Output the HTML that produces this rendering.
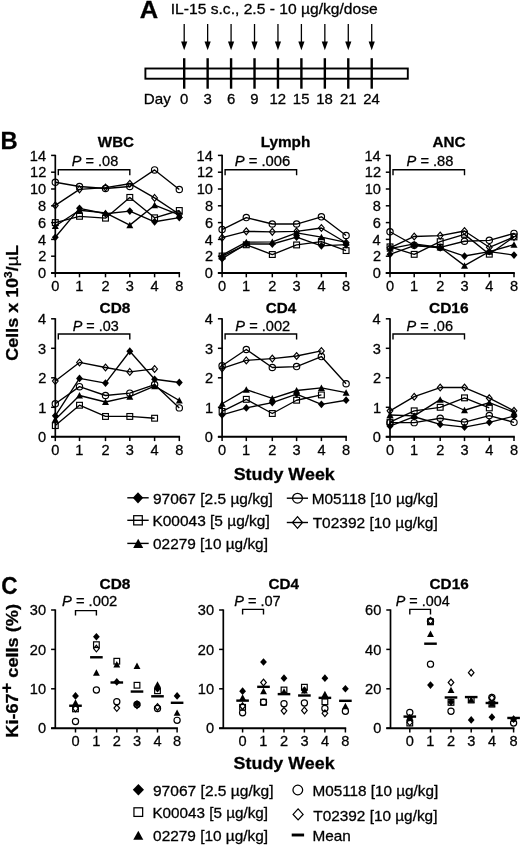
<!DOCTYPE html>
<html><head><meta charset="utf-8"><style>
html,body{margin:0;padding:0;background:#fff;}
body{width:520px;height:846px;overflow:hidden;}
svg{display:block;font-family:"Liberation Sans", sans-serif;filter:blur(0.3px);}
text{stroke:#000;stroke-width:0.28px;paint-order:stroke;}
</style></head><body>
<svg width="520" height="846" viewBox="0 0 520 846" fill="#000">
<rect width="520" height="846" fill="#fff"/>
<text x="139.7" y="18.4" font-size="24" transform="matrix(1.0634 0 0 1 -8.9 0)"><tspan font-weight="bold">A</tspan></text>
<text x="170.89" y="14" font-size="14.2" transform="matrix(1.1013 0 0 1 -17.45 0)"><tspan>IL-15 s.c., 2.5 - 10 µg/kg/dose</tspan></text>
<rect x="145.4" y="68.5" width="262.4" height="10.2" fill="none" stroke="#000" stroke-width="1.9"/>
<line x1="184.2" y1="24" x2="184.2" y2="42" stroke="#000" stroke-width="1.3"/>
<path d="M184.2 50.2L181.1 41.4L187.3 41.4Z" fill="#000"/>
<line x1="184.2" y1="58.2" x2="184.2" y2="88.7" stroke="#000" stroke-width="2.4"/>
<line x1="207.64" y1="24" x2="207.64" y2="42" stroke="#000" stroke-width="1.3"/>
<path d="M207.64 50.2L204.54 41.4L210.74 41.4Z" fill="#000"/>
<line x1="207.64" y1="58.2" x2="207.64" y2="88.7" stroke="#000" stroke-width="2.4"/>
<line x1="231.08" y1="24" x2="231.08" y2="42" stroke="#000" stroke-width="1.3"/>
<path d="M231.08 50.2L227.98 41.4L234.18 41.4Z" fill="#000"/>
<line x1="231.08" y1="58.2" x2="231.08" y2="88.7" stroke="#000" stroke-width="2.4"/>
<line x1="254.52" y1="24" x2="254.52" y2="42" stroke="#000" stroke-width="1.3"/>
<path d="M254.52 50.2L251.42 41.4L257.62 41.4Z" fill="#000"/>
<line x1="254.52" y1="58.2" x2="254.52" y2="88.7" stroke="#000" stroke-width="2.4"/>
<line x1="277.96" y1="24" x2="277.96" y2="42" stroke="#000" stroke-width="1.3"/>
<path d="M277.96 50.2L274.86 41.4L281.06 41.4Z" fill="#000"/>
<line x1="277.96" y1="58.2" x2="277.96" y2="88.7" stroke="#000" stroke-width="2.4"/>
<line x1="301.4" y1="24" x2="301.4" y2="42" stroke="#000" stroke-width="1.3"/>
<path d="M301.4 50.2L298.3 41.4L304.5 41.4Z" fill="#000"/>
<line x1="301.4" y1="58.2" x2="301.4" y2="88.7" stroke="#000" stroke-width="2.4"/>
<line x1="324.84" y1="24" x2="324.84" y2="42" stroke="#000" stroke-width="1.3"/>
<path d="M324.84 50.2L321.74 41.4L327.94 41.4Z" fill="#000"/>
<line x1="324.84" y1="58.2" x2="324.84" y2="88.7" stroke="#000" stroke-width="2.4"/>
<line x1="348.28" y1="24" x2="348.28" y2="42" stroke="#000" stroke-width="1.3"/>
<path d="M348.28 50.2L345.18 41.4L351.38 41.4Z" fill="#000"/>
<line x1="348.28" y1="58.2" x2="348.28" y2="88.7" stroke="#000" stroke-width="2.4"/>
<line x1="371.72" y1="24" x2="371.72" y2="42" stroke="#000" stroke-width="1.3"/>
<path d="M371.72 50.2L368.62 41.4L374.82 41.4Z" fill="#000"/>
<line x1="371.72" y1="58.2" x2="371.72" y2="88.7" stroke="#000" stroke-width="2.4"/>
<text x="143.83" y="104.2" font-size="14.2" transform="matrix(1.0693 0 0 1 -10.05 0)"><tspan>Day</tspan></text>
<text x="180.07" y="104.2" font-size="14.2" transform="matrix(1.0500 0 0 1 -9.03 0)"><tspan>0</tspan></text>
<text x="203.57" y="104.2" font-size="14.2" transform="matrix(1.0500 0 0 1 -10.2 0)"><tspan>3</tspan></text>
<text x="226.92" y="104.2" font-size="14.2" transform="matrix(1.0500 0 0 1 -11.38 0)"><tspan>6</tspan></text>
<text x="250.4" y="104.2" font-size="14.2" transform="matrix(1.0500 0 0 1 -12.55 0)"><tspan>9</tspan></text>
<text x="269.55" y="104.2" font-size="14.2" transform="matrix(1.0500 0 0 1 -13.53 0)"><tspan>12</tspan></text>
<text x="292.92" y="104.2" font-size="14.2" transform="matrix(1.0500 0 0 1 -14.7 0)"><tspan>15</tspan></text>
<text x="316.38" y="104.2" font-size="14.2" transform="matrix(1.0500 0 0 1 -15.87 0)"><tspan>18</tspan></text>
<text x="340.02" y="104.2" font-size="14.2" transform="matrix(1.0500 0 0 1 -17.04 0)"><tspan>21</tspan></text>
<text x="363.31" y="104.2" font-size="14.2" transform="matrix(1.0500 0 0 1 -18.2 0)"><tspan>24</tspan></text>
<text x="0.48" y="149.4" font-size="24" transform="matrix(0.9904 0 0 1 0.02 0)"><tspan font-weight="bold">B</tspan></text>
<text x="97.86" y="146.6" font-size="14.6" transform="matrix(1.0372 0 0 1 -3.64 0)"><tspan font-weight="bold">WBC</tspan></text>
<line x1="55.3" y1="154.8" x2="55.3" y2="273" stroke="#000" stroke-width="1.7"/>
<line x1="51.1" y1="273" x2="55.3" y2="273" stroke="#000" stroke-width="1.5"/>
<text x="38.04" y="278.2" font-size="14.6"><tspan>0</tspan></text>
<line x1="51.1" y1="256.2" x2="55.3" y2="256.2" stroke="#000" stroke-width="1.5"/>
<text x="38.23" y="261.4" font-size="14.6"><tspan>2</tspan></text>
<line x1="51.1" y1="239.4" x2="55.3" y2="239.4" stroke="#000" stroke-width="1.5"/>
<text x="37.9" y="244.6" font-size="14.6"><tspan>4</tspan></text>
<line x1="51.1" y1="222.6" x2="55.3" y2="222.6" stroke="#000" stroke-width="1.5"/>
<text x="38.12" y="227.8" font-size="14.6"><tspan>6</tspan></text>
<line x1="51.1" y1="205.8" x2="55.3" y2="205.8" stroke="#000" stroke-width="1.5"/>
<text x="38.12" y="211" font-size="14.6"><tspan>8</tspan></text>
<line x1="51.1" y1="189" x2="55.3" y2="189" stroke="#000" stroke-width="1.5"/>
<text x="29.94" y="194.2" font-size="14.6"><tspan>10</tspan></text>
<line x1="51.1" y1="172.2" x2="55.3" y2="172.2" stroke="#000" stroke-width="1.5"/>
<text x="30.12" y="177.4" font-size="14.6"><tspan>12</tspan></text>
<line x1="51.1" y1="155.4" x2="55.3" y2="155.4" stroke="#000" stroke-width="1.5"/>
<text x="29.8" y="160.6" font-size="14.6"><tspan>14</tspan></text>
<line x1="51.1" y1="273" x2="180.1" y2="273" stroke="#000" stroke-width="2"/>
<line x1="55.3" y1="273" x2="55.3" y2="277.3" stroke="#000" stroke-width="1.5"/>
<text x="51.23" y="291.2" font-size="14.6"><tspan>0</tspan></text>
<line x1="79.5" y1="273" x2="79.5" y2="277.3" stroke="#000" stroke-width="1.5"/>
<text x="75.25" y="291.2" font-size="14.6"><tspan>1</tspan></text>
<line x1="105.5" y1="273" x2="105.5" y2="277.3" stroke="#000" stroke-width="1.5"/>
<text x="101.45" y="291.2" font-size="14.6"><tspan>2</tspan></text>
<line x1="129.8" y1="273" x2="129.8" y2="277.3" stroke="#000" stroke-width="1.5"/>
<text x="125.79" y="291.2" font-size="14.6"><tspan>3</tspan></text>
<line x1="154.6" y1="273" x2="154.6" y2="277.3" stroke="#000" stroke-width="1.5"/>
<text x="150.59" y="291.2" font-size="14.6"><tspan>4</tspan></text>
<line x1="179.3" y1="273" x2="179.3" y2="277.3" stroke="#000" stroke-width="1.5"/>
<text x="175.25" y="291.2" font-size="14.6"><tspan>8</tspan></text>
<path d="M58.3 175.2V169.7H129.8V175.2" fill="none" stroke="#000" stroke-width="1.4"/>
<text x="71.88" y="165.9" font-size="14" transform="matrix(1.0364 0 0 1 -2.63 0)"><tspan font-style="italic">P</tspan><tspan> = .08</tspan></text>
<polyline points="55.3,237.3 79.5,208.32 105.5,213.78 129.8,211.09 154.6,221.76 179.3,217.56" fill="none" stroke="#000" stroke-width="1.35" stroke-linejoin="round"/>
<polyline points="55.3,222.6 79.5,216.3 105.5,218.15 129.8,197.4 154.6,217.81 179.3,210.5" fill="none" stroke="#000" stroke-width="1.35" stroke-linejoin="round"/>
<polyline points="55.3,225.96 79.5,210.25 105.5,212.94 129.8,225.12 154.6,205.21 179.3,214.79" fill="none" stroke="#000" stroke-width="1.35" stroke-linejoin="round"/>
<polyline points="55.3,182.28 79.5,186.48 105.5,188.5 129.8,186.48 154.6,169.93 179.3,189.5" fill="none" stroke="#000" stroke-width="1.35" stroke-linejoin="round"/>
<polyline points="55.3,205.38 79.5,189.34 105.5,187.57 129.8,183.71 154.6,197.9 179.3,214.2" fill="none" stroke="#000" stroke-width="1.35" stroke-linejoin="round"/>
<path d="M55.3 233.4L58.75 237.3L55.3 241.2L51.85 237.3Z" fill="#000"/>
<path d="M79.5 204.42L82.95 208.32L79.5 212.22L76.05 208.32Z" fill="#000"/>
<path d="M105.5 209.88L108.95 213.78L105.5 217.68L102.05 213.78Z" fill="#000"/>
<path d="M129.8 207.19L133.25 211.09L129.8 214.99L126.35 211.09Z" fill="#000"/>
<path d="M154.6 217.86L158.05 221.76L154.6 225.66L151.15 221.76Z" fill="#000"/>
<path d="M179.3 213.66L182.75 217.56L179.3 221.46L175.85 217.56Z" fill="#000"/>
<rect x="52.4" y="219.7" width="5.8" height="5.8" fill="none" stroke="#000" stroke-width="1.15"/>
<rect x="76.6" y="213.4" width="5.8" height="5.8" fill="none" stroke="#000" stroke-width="1.15"/>
<rect x="102.6" y="215.25" width="5.8" height="5.8" fill="none" stroke="#000" stroke-width="1.15"/>
<rect x="126.9" y="194.5" width="5.8" height="5.8" fill="none" stroke="#000" stroke-width="1.15"/>
<rect x="151.7" y="214.91" width="5.8" height="5.8" fill="none" stroke="#000" stroke-width="1.15"/>
<rect x="176.4" y="207.6" width="5.8" height="5.8" fill="none" stroke="#000" stroke-width="1.15"/>
<path d="M55.3 222.56L58.8 229.06L51.8 229.06Z" fill="#000"/>
<path d="M79.5 206.85L83 213.35L76 213.35Z" fill="#000"/>
<path d="M105.5 209.54L109 216.04L102 216.04Z" fill="#000"/>
<path d="M129.8 221.72L133.3 228.22L126.3 228.22Z" fill="#000"/>
<path d="M154.6 201.81L158.1 208.31L151.1 208.31Z" fill="#000"/>
<path d="M179.3 211.39L182.8 217.89L175.8 217.89Z" fill="#000"/>
<circle cx="55.3" cy="182.28" r="3.15" fill="none" stroke="#000" stroke-width="1.15"/>
<circle cx="79.5" cy="186.48" r="3.15" fill="none" stroke="#000" stroke-width="1.15"/>
<circle cx="105.5" cy="188.5" r="3.15" fill="none" stroke="#000" stroke-width="1.15"/>
<circle cx="129.8" cy="186.48" r="3.15" fill="none" stroke="#000" stroke-width="1.15"/>
<circle cx="154.6" cy="169.93" r="3.15" fill="none" stroke="#000" stroke-width="1.15"/>
<circle cx="179.3" cy="189.5" r="3.15" fill="none" stroke="#000" stroke-width="1.15"/>
<path d="M55.3 201.98L58.15 205.38L55.3 208.78L52.45 205.38Z" fill="none" stroke="#000" stroke-width="1.15"/>
<path d="M79.5 185.94L82.35 189.34L79.5 192.74L76.65 189.34Z" fill="none" stroke="#000" stroke-width="1.15"/>
<path d="M105.5 184.17L108.35 187.57L105.5 190.97L102.65 187.57Z" fill="none" stroke="#000" stroke-width="1.15"/>
<path d="M129.8 180.31L132.65 183.71L129.8 187.11L126.95 183.71Z" fill="none" stroke="#000" stroke-width="1.15"/>
<path d="M154.6 194.5L157.45 197.9L154.6 201.3L151.75 197.9Z" fill="none" stroke="#000" stroke-width="1.15"/>
<path d="M179.3 210.8L182.15 214.2L179.3 217.6L176.45 214.2Z" fill="none" stroke="#000" stroke-width="1.15"/>
<text x="260.71" y="146.6" font-size="14.6" transform="matrix(1.0497 0 0 1 -13 0)"><tspan font-weight="bold">Lymph</tspan></text>
<line x1="222.1" y1="154.8" x2="222.1" y2="273" stroke="#000" stroke-width="1.7"/>
<line x1="217.9" y1="273" x2="222.1" y2="273" stroke="#000" stroke-width="1.5"/>
<text x="204.84" y="278.2" font-size="14.6"><tspan>0</tspan></text>
<line x1="217.9" y1="256.2" x2="222.1" y2="256.2" stroke="#000" stroke-width="1.5"/>
<text x="205.03" y="261.4" font-size="14.6"><tspan>2</tspan></text>
<line x1="217.9" y1="239.4" x2="222.1" y2="239.4" stroke="#000" stroke-width="1.5"/>
<text x="204.7" y="244.6" font-size="14.6"><tspan>4</tspan></text>
<line x1="217.9" y1="222.6" x2="222.1" y2="222.6" stroke="#000" stroke-width="1.5"/>
<text x="204.92" y="227.8" font-size="14.6"><tspan>6</tspan></text>
<line x1="217.9" y1="205.8" x2="222.1" y2="205.8" stroke="#000" stroke-width="1.5"/>
<text x="204.92" y="211" font-size="14.6"><tspan>8</tspan></text>
<line x1="217.9" y1="189" x2="222.1" y2="189" stroke="#000" stroke-width="1.5"/>
<text x="196.74" y="194.2" font-size="14.6"><tspan>10</tspan></text>
<line x1="217.9" y1="172.2" x2="222.1" y2="172.2" stroke="#000" stroke-width="1.5"/>
<text x="196.92" y="177.4" font-size="14.6"><tspan>12</tspan></text>
<line x1="217.9" y1="155.4" x2="222.1" y2="155.4" stroke="#000" stroke-width="1.5"/>
<text x="196.6" y="160.6" font-size="14.6"><tspan>14</tspan></text>
<line x1="217.9" y1="273" x2="346.9" y2="273" stroke="#000" stroke-width="2"/>
<line x1="222.1" y1="273" x2="222.1" y2="277.3" stroke="#000" stroke-width="1.5"/>
<text x="218.03" y="291.2" font-size="14.6"><tspan>0</tspan></text>
<line x1="246.3" y1="273" x2="246.3" y2="277.3" stroke="#000" stroke-width="1.5"/>
<text x="242.05" y="291.2" font-size="14.6"><tspan>1</tspan></text>
<line x1="272.3" y1="273" x2="272.3" y2="277.3" stroke="#000" stroke-width="1.5"/>
<text x="268.25" y="291.2" font-size="14.6"><tspan>2</tspan></text>
<line x1="296.6" y1="273" x2="296.6" y2="277.3" stroke="#000" stroke-width="1.5"/>
<text x="292.59" y="291.2" font-size="14.6"><tspan>3</tspan></text>
<line x1="321.4" y1="273" x2="321.4" y2="277.3" stroke="#000" stroke-width="1.5"/>
<text x="317.38" y="291.2" font-size="14.6"><tspan>4</tspan></text>
<line x1="346.1" y1="273" x2="346.1" y2="277.3" stroke="#000" stroke-width="1.5"/>
<text x="342.05" y="291.2" font-size="14.6"><tspan>8</tspan></text>
<path d="M225.1 175.2V169.7H296.6V175.2" fill="none" stroke="#000" stroke-width="1.4"/>
<text x="234.68" y="165.9" font-size="14" transform="matrix(1.0580 0 0 1 -13.63 0)"><tspan font-style="italic">P</tspan><tspan> = .006</tspan></text>
<polyline points="222.1,258.64 246.3,243.94 272.3,244.02 296.6,237.13 321.4,245.87 346.1,244.69" fill="none" stroke="#000" stroke-width="1.35" stroke-linejoin="round"/>
<polyline points="222.1,256.03 246.3,244.78 272.3,254.52 296.6,244.94 321.4,241.58 346.1,250.57" fill="none" stroke="#000" stroke-width="1.35" stroke-linejoin="round"/>
<polyline points="222.1,255.11 246.3,242.17 272.3,241.92 296.6,232.85 321.4,237.13 346.1,242.34" fill="none" stroke="#000" stroke-width="1.35" stroke-linejoin="round"/>
<polyline points="222.1,229.57 246.3,217.56 272.3,224.03 296.6,224.03 321.4,216.8 346.1,235.45" fill="none" stroke="#000" stroke-width="1.35" stroke-linejoin="round"/>
<polyline points="222.1,237.72 246.3,231.34 272.3,231.84 296.6,231.42 321.4,227.98 346.1,242.76" fill="none" stroke="#000" stroke-width="1.35" stroke-linejoin="round"/>
<path d="M222.1 254.74L225.55 258.64L222.1 262.54L218.65 258.64Z" fill="#000"/>
<path d="M246.3 240.04L249.75 243.94L246.3 247.84L242.85 243.94Z" fill="#000"/>
<path d="M272.3 240.12L275.75 244.02L272.3 247.92L268.85 244.02Z" fill="#000"/>
<path d="M296.6 233.23L300.05 237.13L296.6 241.03L293.15 237.13Z" fill="#000"/>
<path d="M321.4 241.97L324.85 245.87L321.4 249.77L317.95 245.87Z" fill="#000"/>
<path d="M346.1 240.79L349.55 244.69L346.1 248.59L342.65 244.69Z" fill="#000"/>
<rect x="219.2" y="253.13" width="5.8" height="5.8" fill="none" stroke="#000" stroke-width="1.15"/>
<rect x="243.4" y="241.88" width="5.8" height="5.8" fill="none" stroke="#000" stroke-width="1.15"/>
<rect x="269.4" y="251.62" width="5.8" height="5.8" fill="none" stroke="#000" stroke-width="1.15"/>
<rect x="293.7" y="242.04" width="5.8" height="5.8" fill="none" stroke="#000" stroke-width="1.15"/>
<rect x="318.5" y="238.68" width="5.8" height="5.8" fill="none" stroke="#000" stroke-width="1.15"/>
<rect x="343.2" y="247.67" width="5.8" height="5.8" fill="none" stroke="#000" stroke-width="1.15"/>
<path d="M222.1 251.71L225.6 258.21L218.6 258.21Z" fill="#000"/>
<path d="M246.3 238.77L249.8 245.27L242.8 245.27Z" fill="#000"/>
<path d="M272.3 238.52L275.8 245.02L268.8 245.02Z" fill="#000"/>
<path d="M296.6 229.45L300.1 235.95L293.1 235.95Z" fill="#000"/>
<path d="M321.4 233.73L324.9 240.23L317.9 240.23Z" fill="#000"/>
<path d="M346.1 238.94L349.6 245.44L342.6 245.44Z" fill="#000"/>
<circle cx="222.1" cy="229.57" r="3.15" fill="none" stroke="#000" stroke-width="1.15"/>
<circle cx="246.3" cy="217.56" r="3.15" fill="none" stroke="#000" stroke-width="1.15"/>
<circle cx="272.3" cy="224.03" r="3.15" fill="none" stroke="#000" stroke-width="1.15"/>
<circle cx="296.6" cy="224.03" r="3.15" fill="none" stroke="#000" stroke-width="1.15"/>
<circle cx="321.4" cy="216.8" r="3.15" fill="none" stroke="#000" stroke-width="1.15"/>
<circle cx="346.1" cy="235.45" r="3.15" fill="none" stroke="#000" stroke-width="1.15"/>
<path d="M222.1 234.32L224.95 237.72L222.1 241.12L219.25 237.72Z" fill="none" stroke="#000" stroke-width="1.15"/>
<path d="M246.3 227.94L249.15 231.34L246.3 234.74L243.45 231.34Z" fill="none" stroke="#000" stroke-width="1.15"/>
<path d="M272.3 228.44L275.15 231.84L272.3 235.24L269.45 231.84Z" fill="none" stroke="#000" stroke-width="1.15"/>
<path d="M296.6 228.02L299.45 231.42L296.6 234.82L293.75 231.42Z" fill="none" stroke="#000" stroke-width="1.15"/>
<path d="M321.4 224.58L324.25 227.98L321.4 231.38L318.55 227.98Z" fill="none" stroke="#000" stroke-width="1.15"/>
<path d="M346.1 239.36L348.95 242.76L346.1 246.16L343.25 242.76Z" fill="none" stroke="#000" stroke-width="1.15"/>
<text x="432.53" y="146.6" font-size="14.6" transform="matrix(1.0460 0 0 1 -19.92 0)"><tspan font-weight="bold">ANC</tspan></text>
<line x1="390" y1="154.8" x2="390" y2="273" stroke="#000" stroke-width="1.7"/>
<line x1="385.8" y1="273" x2="390" y2="273" stroke="#000" stroke-width="1.5"/>
<text x="372.74" y="278.2" font-size="14.6"><tspan>0</tspan></text>
<line x1="385.8" y1="256.2" x2="390" y2="256.2" stroke="#000" stroke-width="1.5"/>
<text x="372.93" y="261.4" font-size="14.6"><tspan>2</tspan></text>
<line x1="385.8" y1="239.4" x2="390" y2="239.4" stroke="#000" stroke-width="1.5"/>
<text x="372.6" y="244.6" font-size="14.6"><tspan>4</tspan></text>
<line x1="385.8" y1="222.6" x2="390" y2="222.6" stroke="#000" stroke-width="1.5"/>
<text x="372.82" y="227.8" font-size="14.6"><tspan>6</tspan></text>
<line x1="385.8" y1="205.8" x2="390" y2="205.8" stroke="#000" stroke-width="1.5"/>
<text x="372.82" y="211" font-size="14.6"><tspan>8</tspan></text>
<line x1="385.8" y1="189" x2="390" y2="189" stroke="#000" stroke-width="1.5"/>
<text x="364.64" y="194.2" font-size="14.6"><tspan>10</tspan></text>
<line x1="385.8" y1="172.2" x2="390" y2="172.2" stroke="#000" stroke-width="1.5"/>
<text x="364.82" y="177.4" font-size="14.6"><tspan>12</tspan></text>
<line x1="385.8" y1="155.4" x2="390" y2="155.4" stroke="#000" stroke-width="1.5"/>
<text x="364.5" y="160.6" font-size="14.6"><tspan>14</tspan></text>
<line x1="385.8" y1="273" x2="514.8" y2="273" stroke="#000" stroke-width="2"/>
<line x1="390" y1="273" x2="390" y2="277.3" stroke="#000" stroke-width="1.5"/>
<text x="385.93" y="291.2" font-size="14.6"><tspan>0</tspan></text>
<line x1="414.2" y1="273" x2="414.2" y2="277.3" stroke="#000" stroke-width="1.5"/>
<text x="409.95" y="291.2" font-size="14.6"><tspan>1</tspan></text>
<line x1="440.2" y1="273" x2="440.2" y2="277.3" stroke="#000" stroke-width="1.5"/>
<text x="436.15" y="291.2" font-size="14.6"><tspan>2</tspan></text>
<line x1="464.5" y1="273" x2="464.5" y2="277.3" stroke="#000" stroke-width="1.5"/>
<text x="460.49" y="291.2" font-size="14.6"><tspan>3</tspan></text>
<line x1="489.3" y1="273" x2="489.3" y2="277.3" stroke="#000" stroke-width="1.5"/>
<text x="485.28" y="291.2" font-size="14.6"><tspan>4</tspan></text>
<line x1="514" y1="273" x2="514" y2="277.3" stroke="#000" stroke-width="1.5"/>
<text x="509.95" y="291.2" font-size="14.6"><tspan>8</tspan></text>
<path d="M393 175.2V169.7H464.5V175.2" fill="none" stroke="#000" stroke-width="1.4"/>
<text x="406.58" y="165.9" font-size="14" transform="matrix(1.0456 0 0 1 -18.55 0)"><tspan font-style="italic">P</tspan><tspan> = .88</tspan></text>
<polyline points="390,254.35 414.2,245.7 440.2,247.8 464.5,256.03 489.3,251.58 514,255.11" fill="none" stroke="#000" stroke-width="1.35" stroke-linejoin="round"/>
<polyline points="390,246.88 414.2,254.35 440.2,241.67 464.5,234.36 489.3,254.18 514,236.88" fill="none" stroke="#000" stroke-width="1.35" stroke-linejoin="round"/>
<polyline points="390,248.64 414.2,243.85 440.2,247.3 464.5,265.61 489.3,251.58 514,244.69" fill="none" stroke="#000" stroke-width="1.35" stroke-linejoin="round"/>
<polyline points="390,231.76 414.2,245.28 440.2,247.3 464.5,241.25 489.3,240.32 514,233.44" fill="none" stroke="#000" stroke-width="1.35" stroke-linejoin="round"/>
<polyline points="390,247.8 414.2,236.46 440.2,235.62 464.5,231 489.3,247.3 514,236.88" fill="none" stroke="#000" stroke-width="1.35" stroke-linejoin="round"/>
<path d="M390 250.45L393.45 254.35L390 258.25L386.55 254.35Z" fill="#000"/>
<path d="M414.2 241.8L417.65 245.7L414.2 249.6L410.75 245.7Z" fill="#000"/>
<path d="M440.2 243.9L443.65 247.8L440.2 251.7L436.75 247.8Z" fill="#000"/>
<path d="M464.5 252.13L467.95 256.03L464.5 259.93L461.05 256.03Z" fill="#000"/>
<path d="M489.3 247.68L492.75 251.58L489.3 255.48L485.85 251.58Z" fill="#000"/>
<path d="M514 251.21L517.45 255.11L514 259.01L510.55 255.11Z" fill="#000"/>
<rect x="387.1" y="243.98" width="5.8" height="5.8" fill="none" stroke="#000" stroke-width="1.15"/>
<rect x="411.3" y="251.45" width="5.8" height="5.8" fill="none" stroke="#000" stroke-width="1.15"/>
<rect x="437.3" y="238.77" width="5.8" height="5.8" fill="none" stroke="#000" stroke-width="1.15"/>
<rect x="461.6" y="231.46" width="5.8" height="5.8" fill="none" stroke="#000" stroke-width="1.15"/>
<rect x="486.4" y="251.28" width="5.8" height="5.8" fill="none" stroke="#000" stroke-width="1.15"/>
<rect x="511.1" y="233.98" width="5.8" height="5.8" fill="none" stroke="#000" stroke-width="1.15"/>
<path d="M390 245.24L393.5 251.74L386.5 251.74Z" fill="#000"/>
<path d="M414.2 240.45L417.7 246.95L410.7 246.95Z" fill="#000"/>
<path d="M440.2 243.9L443.7 250.4L436.7 250.4Z" fill="#000"/>
<path d="M464.5 262.21L468 268.71L461 268.71Z" fill="#000"/>
<path d="M489.3 248.18L492.8 254.68L485.8 254.68Z" fill="#000"/>
<path d="M514 241.29L517.5 247.79L510.5 247.79Z" fill="#000"/>
<circle cx="390" cy="231.76" r="3.15" fill="none" stroke="#000" stroke-width="1.15"/>
<circle cx="414.2" cy="245.28" r="3.15" fill="none" stroke="#000" stroke-width="1.15"/>
<circle cx="440.2" cy="247.3" r="3.15" fill="none" stroke="#000" stroke-width="1.15"/>
<circle cx="464.5" cy="241.25" r="3.15" fill="none" stroke="#000" stroke-width="1.15"/>
<circle cx="489.3" cy="240.32" r="3.15" fill="none" stroke="#000" stroke-width="1.15"/>
<circle cx="514" cy="233.44" r="3.15" fill="none" stroke="#000" stroke-width="1.15"/>
<path d="M390 244.4L392.85 247.8L390 251.2L387.15 247.8Z" fill="none" stroke="#000" stroke-width="1.15"/>
<path d="M414.2 233.06L417.05 236.46L414.2 239.86L411.35 236.46Z" fill="none" stroke="#000" stroke-width="1.15"/>
<path d="M440.2 232.22L443.05 235.62L440.2 239.02L437.35 235.62Z" fill="none" stroke="#000" stroke-width="1.15"/>
<path d="M464.5 227.6L467.35 231L464.5 234.4L461.65 231Z" fill="none" stroke="#000" stroke-width="1.15"/>
<path d="M489.3 243.9L492.15 247.3L489.3 250.7L486.45 247.3Z" fill="none" stroke="#000" stroke-width="1.15"/>
<path d="M514 233.48L516.85 236.88L514 240.28L511.15 236.88Z" fill="none" stroke="#000" stroke-width="1.15"/>
<text x="99.62" y="313" font-size="14.6" transform="matrix(1.0576 0 0 1 -5.77 0)"><tspan font-weight="bold">CD8</tspan></text>
<line x1="55.3" y1="318.2" x2="55.3" y2="436.8" stroke="#000" stroke-width="1.7"/>
<line x1="51.1" y1="436.8" x2="55.3" y2="436.8" stroke="#000" stroke-width="1.5"/>
<text x="38.04" y="442" font-size="14.6"><tspan>0</tspan></text>
<line x1="51.1" y1="407.3" x2="55.3" y2="407.3" stroke="#000" stroke-width="1.5"/>
<text x="38.19" y="412.5" font-size="14.6"><tspan>1</tspan></text>
<line x1="51.1" y1="377.8" x2="55.3" y2="377.8" stroke="#000" stroke-width="1.5"/>
<text x="38.23" y="383" font-size="14.6"><tspan>2</tspan></text>
<line x1="51.1" y1="348.3" x2="55.3" y2="348.3" stroke="#000" stroke-width="1.5"/>
<text x="38.12" y="353.5" font-size="14.6"><tspan>3</tspan></text>
<line x1="51.1" y1="318.8" x2="55.3" y2="318.8" stroke="#000" stroke-width="1.5"/>
<text x="37.9" y="324" font-size="14.6"><tspan>4</tspan></text>
<line x1="51.1" y1="436.8" x2="180.1" y2="436.8" stroke="#000" stroke-width="2"/>
<line x1="55.3" y1="436.8" x2="55.3" y2="441.1" stroke="#000" stroke-width="1.5"/>
<text x="51.23" y="455" font-size="14.6"><tspan>0</tspan></text>
<line x1="79.5" y1="436.8" x2="79.5" y2="441.1" stroke="#000" stroke-width="1.5"/>
<text x="75.25" y="455" font-size="14.6"><tspan>1</tspan></text>
<line x1="105.5" y1="436.8" x2="105.5" y2="441.1" stroke="#000" stroke-width="1.5"/>
<text x="101.45" y="455" font-size="14.6"><tspan>2</tspan></text>
<line x1="129.8" y1="436.8" x2="129.8" y2="441.1" stroke="#000" stroke-width="1.5"/>
<text x="125.79" y="455" font-size="14.6"><tspan>3</tspan></text>
<line x1="154.6" y1="436.8" x2="154.6" y2="441.1" stroke="#000" stroke-width="1.5"/>
<text x="150.59" y="455" font-size="14.6"><tspan>4</tspan></text>
<line x1="179.3" y1="436.8" x2="179.3" y2="441.1" stroke="#000" stroke-width="1.5"/>
<text x="175.25" y="455" font-size="14.6"><tspan>8</tspan></text>
<path d="M58.3 339.5V334H129.8V339.5" fill="none" stroke="#000" stroke-width="1.4"/>
<text x="72.68" y="330.9" font-size="14" transform="matrix(1.0273 0 0 1 -1.99 0)"><tspan font-style="italic">P</tspan><tspan> = .03</tspan></text>
<polyline points="55.3,415.86 79.5,378.39 105.5,383.11 129.8,351.25 154.6,379.28 179.3,382.52" fill="none" stroke="#000" stroke-width="1.35" stroke-linejoin="round"/>
<polyline points="55.3,425.59 79.5,405.24 105.5,416.44 129.8,416.44 154.6,418.22" fill="none" stroke="#000" stroke-width="1.35" stroke-linejoin="round"/>
<polyline points="55.3,419.4 79.5,395.5 105.5,401.99 129.8,396.68 154.6,386.06 179.3,400.51" fill="none" stroke="#000" stroke-width="1.35" stroke-linejoin="round"/>
<polyline points="55.3,403.76 79.5,386.65 105.5,395.5 129.8,393.14 154.6,384.59 179.3,407.89" fill="none" stroke="#000" stroke-width="1.35" stroke-linejoin="round"/>
<polyline points="55.3,381.05 79.5,362.46 105.5,367.48 129.8,371.9 154.6,368.95" fill="none" stroke="#000" stroke-width="1.35" stroke-linejoin="round"/>
<path d="M55.3 411.96L58.75 415.86L55.3 419.75L51.85 415.86Z" fill="#000"/>
<path d="M79.5 374.49L82.95 378.39L79.5 382.29L76.05 378.39Z" fill="#000"/>
<path d="M105.5 379.21L108.95 383.11L105.5 387.01L102.05 383.11Z" fill="#000"/>
<path d="M129.8 347.35L133.25 351.25L129.8 355.15L126.35 351.25Z" fill="#000"/>
<path d="M154.6 375.38L158.05 379.28L154.6 383.18L151.15 379.28Z" fill="#000"/>
<path d="M179.3 378.62L182.75 382.52L179.3 386.42L175.85 382.52Z" fill="#000"/>
<rect x="52.4" y="422.69" width="5.8" height="5.8" fill="none" stroke="#000" stroke-width="1.15"/>
<rect x="76.6" y="402.34" width="5.8" height="5.8" fill="none" stroke="#000" stroke-width="1.15"/>
<rect x="102.6" y="413.55" width="5.8" height="5.8" fill="none" stroke="#000" stroke-width="1.15"/>
<rect x="126.9" y="413.55" width="5.8" height="5.8" fill="none" stroke="#000" stroke-width="1.15"/>
<rect x="151.7" y="415.32" width="5.8" height="5.8" fill="none" stroke="#000" stroke-width="1.15"/>
<path d="M55.3 416L58.8 422.5L51.8 422.5Z" fill="#000"/>
<path d="M79.5 392.1L83 398.6L76 398.6Z" fill="#000"/>
<path d="M105.5 398.59L109 405.09L102 405.09Z" fill="#000"/>
<path d="M129.8 393.28L133.3 399.78L126.3 399.78Z" fill="#000"/>
<path d="M154.6 382.66L158.1 389.16L151.1 389.16Z" fill="#000"/>
<path d="M179.3 397.12L182.8 403.62L175.8 403.62Z" fill="#000"/>
<circle cx="55.3" cy="403.76" r="3.15" fill="none" stroke="#000" stroke-width="1.15"/>
<circle cx="79.5" cy="386.65" r="3.15" fill="none" stroke="#000" stroke-width="1.15"/>
<circle cx="105.5" cy="395.5" r="3.15" fill="none" stroke="#000" stroke-width="1.15"/>
<circle cx="129.8" cy="393.14" r="3.15" fill="none" stroke="#000" stroke-width="1.15"/>
<circle cx="154.6" cy="384.59" r="3.15" fill="none" stroke="#000" stroke-width="1.15"/>
<circle cx="179.3" cy="407.89" r="3.15" fill="none" stroke="#000" stroke-width="1.15"/>
<path d="M55.3 377.65L58.15 381.05L55.3 384.44L52.45 381.05Z" fill="none" stroke="#000" stroke-width="1.15"/>
<path d="M79.5 359.06L82.35 362.46L79.5 365.86L76.65 362.46Z" fill="none" stroke="#000" stroke-width="1.15"/>
<path d="M105.5 364.08L108.35 367.48L105.5 370.88L102.65 367.48Z" fill="none" stroke="#000" stroke-width="1.15"/>
<path d="M129.8 368.5L132.65 371.9L129.8 375.3L126.95 371.9Z" fill="none" stroke="#000" stroke-width="1.15"/>
<path d="M154.6 365.55L157.45 368.95L154.6 372.35L151.75 368.95Z" fill="none" stroke="#000" stroke-width="1.15"/>
<text x="265.82" y="313" font-size="14.6" transform="matrix(1.0405 0 0 1 -10.8 0)"><tspan font-weight="bold">CD4</tspan></text>
<line x1="222.1" y1="318.2" x2="222.1" y2="436.8" stroke="#000" stroke-width="1.7"/>
<line x1="217.9" y1="436.8" x2="222.1" y2="436.8" stroke="#000" stroke-width="1.5"/>
<text x="204.84" y="442" font-size="14.6"><tspan>0</tspan></text>
<line x1="217.9" y1="407.3" x2="222.1" y2="407.3" stroke="#000" stroke-width="1.5"/>
<text x="204.99" y="412.5" font-size="14.6"><tspan>1</tspan></text>
<line x1="217.9" y1="377.8" x2="222.1" y2="377.8" stroke="#000" stroke-width="1.5"/>
<text x="205.03" y="383" font-size="14.6"><tspan>2</tspan></text>
<line x1="217.9" y1="348.3" x2="222.1" y2="348.3" stroke="#000" stroke-width="1.5"/>
<text x="204.92" y="353.5" font-size="14.6"><tspan>3</tspan></text>
<line x1="217.9" y1="318.8" x2="222.1" y2="318.8" stroke="#000" stroke-width="1.5"/>
<text x="204.7" y="324" font-size="14.6"><tspan>4</tspan></text>
<line x1="217.9" y1="436.8" x2="346.9" y2="436.8" stroke="#000" stroke-width="2"/>
<line x1="222.1" y1="436.8" x2="222.1" y2="441.1" stroke="#000" stroke-width="1.5"/>
<text x="218.03" y="455" font-size="14.6"><tspan>0</tspan></text>
<line x1="246.3" y1="436.8" x2="246.3" y2="441.1" stroke="#000" stroke-width="1.5"/>
<text x="242.05" y="455" font-size="14.6"><tspan>1</tspan></text>
<line x1="272.3" y1="436.8" x2="272.3" y2="441.1" stroke="#000" stroke-width="1.5"/>
<text x="268.25" y="455" font-size="14.6"><tspan>2</tspan></text>
<line x1="296.6" y1="436.8" x2="296.6" y2="441.1" stroke="#000" stroke-width="1.5"/>
<text x="292.59" y="455" font-size="14.6"><tspan>3</tspan></text>
<line x1="321.4" y1="436.8" x2="321.4" y2="441.1" stroke="#000" stroke-width="1.5"/>
<text x="317.38" y="455" font-size="14.6"><tspan>4</tspan></text>
<line x1="346.1" y1="436.8" x2="346.1" y2="441.1" stroke="#000" stroke-width="1.5"/>
<text x="342.05" y="455" font-size="14.6"><tspan>8</tspan></text>
<path d="M225.1 339.5V334H296.6V339.5" fill="none" stroke="#000" stroke-width="1.4"/>
<text x="235.38" y="330.9" font-size="14" transform="matrix(1.0426 0 0 1 -10.05 0)"><tspan font-style="italic">P</tspan><tspan> = .002</tspan></text>
<polyline points="222.1,414.97 246.3,407.89 272.3,402.58 296.6,394.03 321.4,404.35 346.1,400.22" fill="none" stroke="#000" stroke-width="1.35" stroke-linejoin="round"/>
<polyline points="222.1,411.43 246.3,399.34 272.3,413.5 296.6,400.22 321.4,394.91" fill="none" stroke="#000" stroke-width="1.35" stroke-linejoin="round"/>
<polyline points="222.1,403.76 246.3,389.6 272.3,398.45 296.6,390.49 321.4,387.83 346.1,392.55" fill="none" stroke="#000" stroke-width="1.35" stroke-linejoin="round"/>
<polyline points="222.1,365.71 246.3,349.48 272.3,367.48 296.6,366.59 321.4,356.56 346.1,383.7" fill="none" stroke="#000" stroke-width="1.35" stroke-linejoin="round"/>
<polyline points="222.1,368.36 246.3,360.39 272.3,358.62 296.6,355.97 321.4,350.96" fill="none" stroke="#000" stroke-width="1.35" stroke-linejoin="round"/>
<path d="M222.1 411.07L225.55 414.97L222.1 418.87L218.65 414.97Z" fill="#000"/>
<path d="M246.3 403.99L249.75 407.89L246.3 411.79L242.85 407.89Z" fill="#000"/>
<path d="M272.3 398.68L275.75 402.58L272.3 406.48L268.85 402.58Z" fill="#000"/>
<path d="M296.6 390.13L300.05 394.03L296.6 397.93L293.15 394.03Z" fill="#000"/>
<path d="M321.4 400.45L324.85 404.35L321.4 408.25L317.95 404.35Z" fill="#000"/>
<path d="M346.1 396.32L349.55 400.22L346.1 404.12L342.65 400.22Z" fill="#000"/>
<rect x="219.2" y="408.53" width="5.8" height="5.8" fill="none" stroke="#000" stroke-width="1.15"/>
<rect x="243.4" y="396.44" width="5.8" height="5.8" fill="none" stroke="#000" stroke-width="1.15"/>
<rect x="269.4" y="410.6" width="5.8" height="5.8" fill="none" stroke="#000" stroke-width="1.15"/>
<rect x="293.7" y="397.32" width="5.8" height="5.8" fill="none" stroke="#000" stroke-width="1.15"/>
<rect x="318.5" y="392.01" width="5.8" height="5.8" fill="none" stroke="#000" stroke-width="1.15"/>
<path d="M222.1 400.36L225.6 406.86L218.6 406.86Z" fill="#000"/>
<path d="M246.3 386.2L249.8 392.7L242.8 392.7Z" fill="#000"/>
<path d="M272.3 395.05L275.8 401.55L268.8 401.55Z" fill="#000"/>
<path d="M296.6 387.09L300.1 393.59L293.1 393.59Z" fill="#000"/>
<path d="M321.4 384.43L324.9 390.93L317.9 390.93Z" fill="#000"/>
<path d="M346.1 389.15L349.6 395.65L342.6 395.65Z" fill="#000"/>
<circle cx="222.1" cy="365.71" r="3.15" fill="none" stroke="#000" stroke-width="1.15"/>
<circle cx="246.3" cy="349.48" r="3.15" fill="none" stroke="#000" stroke-width="1.15"/>
<circle cx="272.3" cy="367.48" r="3.15" fill="none" stroke="#000" stroke-width="1.15"/>
<circle cx="296.6" cy="366.59" r="3.15" fill="none" stroke="#000" stroke-width="1.15"/>
<circle cx="321.4" cy="356.56" r="3.15" fill="none" stroke="#000" stroke-width="1.15"/>
<circle cx="346.1" cy="383.7" r="3.15" fill="none" stroke="#000" stroke-width="1.15"/>
<path d="M222.1 364.96L224.95 368.36L222.1 371.76L219.25 368.36Z" fill="none" stroke="#000" stroke-width="1.15"/>
<path d="M246.3 357L249.15 360.39L246.3 363.79L243.45 360.39Z" fill="none" stroke="#000" stroke-width="1.15"/>
<path d="M272.3 355.23L275.15 358.62L272.3 362.02L269.45 358.62Z" fill="none" stroke="#000" stroke-width="1.15"/>
<path d="M296.6 352.57L299.45 355.97L296.6 359.37L293.75 355.97Z" fill="none" stroke="#000" stroke-width="1.15"/>
<path d="M321.4 347.56L324.25 350.96L321.4 354.36L318.55 350.96Z" fill="none" stroke="#000" stroke-width="1.15"/>
<text x="429.02" y="313" font-size="14.6" transform="matrix(1.0633 0 0 1 -27.19 0)"><tspan font-weight="bold">CD16</tspan></text>
<line x1="390" y1="318.2" x2="390" y2="436.8" stroke="#000" stroke-width="1.7"/>
<line x1="385.8" y1="436.8" x2="390" y2="436.8" stroke="#000" stroke-width="1.5"/>
<text x="372.74" y="442" font-size="14.6"><tspan>0</tspan></text>
<line x1="385.8" y1="407.3" x2="390" y2="407.3" stroke="#000" stroke-width="1.5"/>
<text x="372.89" y="412.5" font-size="14.6"><tspan>1</tspan></text>
<line x1="385.8" y1="377.8" x2="390" y2="377.8" stroke="#000" stroke-width="1.5"/>
<text x="372.93" y="383" font-size="14.6"><tspan>2</tspan></text>
<line x1="385.8" y1="348.3" x2="390" y2="348.3" stroke="#000" stroke-width="1.5"/>
<text x="372.82" y="353.5" font-size="14.6"><tspan>3</tspan></text>
<line x1="385.8" y1="318.8" x2="390" y2="318.8" stroke="#000" stroke-width="1.5"/>
<text x="372.6" y="324" font-size="14.6"><tspan>4</tspan></text>
<line x1="385.8" y1="436.8" x2="514.8" y2="436.8" stroke="#000" stroke-width="2"/>
<line x1="390" y1="436.8" x2="390" y2="441.1" stroke="#000" stroke-width="1.5"/>
<text x="385.93" y="455" font-size="14.6"><tspan>0</tspan></text>
<line x1="414.2" y1="436.8" x2="414.2" y2="441.1" stroke="#000" stroke-width="1.5"/>
<text x="409.95" y="455" font-size="14.6"><tspan>1</tspan></text>
<line x1="440.2" y1="436.8" x2="440.2" y2="441.1" stroke="#000" stroke-width="1.5"/>
<text x="436.15" y="455" font-size="14.6"><tspan>2</tspan></text>
<line x1="464.5" y1="436.8" x2="464.5" y2="441.1" stroke="#000" stroke-width="1.5"/>
<text x="460.49" y="455" font-size="14.6"><tspan>3</tspan></text>
<line x1="489.3" y1="436.8" x2="489.3" y2="441.1" stroke="#000" stroke-width="1.5"/>
<text x="485.28" y="455" font-size="14.6"><tspan>4</tspan></text>
<line x1="514" y1="436.8" x2="514" y2="441.1" stroke="#000" stroke-width="1.5"/>
<text x="509.95" y="455" font-size="14.6"><tspan>8</tspan></text>
<path d="M393 339.5V334H464.5V339.5" fill="none" stroke="#000" stroke-width="1.4"/>
<text x="406.58" y="330.9" font-size="14" transform="matrix(1.0387 0 0 1 -15.76 0)"><tspan font-style="italic">P</tspan><tspan> = .06</tspan></text>
<polyline points="390,426.18 414.2,416.74 440.2,424.41 464.5,427.06 489.3,422.35 514,416.15" fill="none" stroke="#000" stroke-width="1.35" stroke-linejoin="round"/>
<polyline points="390,422.05 414.2,410.84 440.2,407.3 464.5,397.86 489.3,407.89" fill="none" stroke="#000" stroke-width="1.35" stroke-linejoin="round"/>
<polyline points="390,414.97 414.2,415.86 440.2,399.63 464.5,410.25 489.3,402.58 514,412.31" fill="none" stroke="#000" stroke-width="1.35" stroke-linejoin="round"/>
<polyline points="390,422.64 414.2,422.64 440.2,418.22 464.5,422.05 489.3,415.56 514,422.35" fill="none" stroke="#000" stroke-width="1.35" stroke-linejoin="round"/>
<polyline points="390,410.84 414.2,396.68 440.2,387.54 464.5,387.54 489.3,398.16 514,410.84" fill="none" stroke="#000" stroke-width="1.35" stroke-linejoin="round"/>
<path d="M390 422.28L393.45 426.18L390 430.08L386.55 426.18Z" fill="#000"/>
<path d="M414.2 412.84L417.65 416.74L414.2 420.64L410.75 416.74Z" fill="#000"/>
<path d="M440.2 420.51L443.65 424.41L440.2 428.31L436.75 424.41Z" fill="#000"/>
<path d="M464.5 423.17L467.95 427.06L464.5 430.96L461.05 427.06Z" fill="#000"/>
<path d="M489.3 418.45L492.75 422.35L489.3 426.25L485.85 422.35Z" fill="#000"/>
<path d="M514 412.25L517.45 416.15L514 420.05L510.55 416.15Z" fill="#000"/>
<rect x="387.1" y="419.15" width="5.8" height="5.8" fill="none" stroke="#000" stroke-width="1.15"/>
<rect x="411.3" y="407.94" width="5.8" height="5.8" fill="none" stroke="#000" stroke-width="1.15"/>
<rect x="437.3" y="404.4" width="5.8" height="5.8" fill="none" stroke="#000" stroke-width="1.15"/>
<rect x="461.6" y="394.96" width="5.8" height="5.8" fill="none" stroke="#000" stroke-width="1.15"/>
<rect x="486.4" y="404.99" width="5.8" height="5.8" fill="none" stroke="#000" stroke-width="1.15"/>
<path d="M390 411.57L393.5 418.07L386.5 418.07Z" fill="#000"/>
<path d="M414.2 412.46L417.7 418.96L410.7 418.96Z" fill="#000"/>
<path d="M440.2 396.23L443.7 402.73L436.7 402.73Z" fill="#000"/>
<path d="M464.5 406.85L468 413.35L461 413.35Z" fill="#000"/>
<path d="M489.3 399.18L492.8 405.68L485.8 405.68Z" fill="#000"/>
<path d="M514 408.92L517.5 415.42L510.5 415.42Z" fill="#000"/>
<circle cx="390" cy="422.64" r="3.15" fill="none" stroke="#000" stroke-width="1.15"/>
<circle cx="414.2" cy="422.64" r="3.15" fill="none" stroke="#000" stroke-width="1.15"/>
<circle cx="440.2" cy="418.22" r="3.15" fill="none" stroke="#000" stroke-width="1.15"/>
<circle cx="464.5" cy="422.05" r="3.15" fill="none" stroke="#000" stroke-width="1.15"/>
<circle cx="489.3" cy="415.56" r="3.15" fill="none" stroke="#000" stroke-width="1.15"/>
<circle cx="514" cy="422.35" r="3.15" fill="none" stroke="#000" stroke-width="1.15"/>
<path d="M390 407.44L392.85 410.84L390 414.24L387.15 410.84Z" fill="none" stroke="#000" stroke-width="1.15"/>
<path d="M414.2 393.28L417.05 396.68L414.2 400.08L411.35 396.68Z" fill="none" stroke="#000" stroke-width="1.15"/>
<path d="M440.2 384.14L443.05 387.54L440.2 390.94L437.35 387.54Z" fill="none" stroke="#000" stroke-width="1.15"/>
<path d="M464.5 384.14L467.35 387.54L464.5 390.94L461.65 387.54Z" fill="none" stroke="#000" stroke-width="1.15"/>
<path d="M489.3 394.76L492.15 398.16L489.3 401.56L486.45 398.16Z" fill="none" stroke="#000" stroke-width="1.15"/>
<path d="M514 407.44L516.85 410.84L514 414.24L511.15 410.84Z" fill="none" stroke="#000" stroke-width="1.15"/>
<text x="-0.67" y="0" font-size="16.8" transform="translate(17.5 360) rotate(-90) scale(1.0690 1)"><tspan font-weight="bold">Cells x 10</tspan><tspan font-weight="bold" font-size="11.09" dy="-6">3</tspan><tspan font-weight="bold" dy="6">/</tspan><tspan>µ</tspan><tspan font-weight="bold">L</tspan></text>
<text x="233.69" y="479.8" font-size="17.1" transform="matrix(1.0474 0 0 1 -11.1 0)"><tspan font-weight="bold">Study Week</tspan></text>
<line x1="127.3" y1="497.8" x2="148.7" y2="497.8" stroke="#000" stroke-width="1.4"/>
<path d="M138 492.2L143.2 497.8L138 503.4L132.8 497.8Z" fill="#000"/>
<text x="153.03" y="504.4" font-size="14.2" transform="matrix(1.0909 0 0 1 -13.98 0)"><tspan>97067 [2.5 µg/kg]</tspan></text>
<line x1="127.3" y1="520.3" x2="148.7" y2="520.3" stroke="#000" stroke-width="1.4"/>
<rect x="133.7" y="515.7" width="8.6" height="9.2" fill="none" stroke="#000" stroke-width="1.25"/>
<text x="152.53" y="526.4" font-size="14.2" transform="matrix(1.0900 0 0 1 -13.83 0)"><tspan>K00043 [5 µg/kg]</tspan></text>
<line x1="127.3" y1="543.4" x2="148.7" y2="543.4" stroke="#000" stroke-width="1.4"/>
<path d="M138.2 538.8L143.2 548L133.2 548Z" fill="#000"/>
<text x="153.13" y="549.4" font-size="14.2" transform="matrix(1.0831 0 0 1 -12.78 0)"><tspan>02279 [10 µg/kg]</tspan></text>
<line x1="286.8" y1="498.2" x2="308" y2="498.2" stroke="#000" stroke-width="1.4"/>
<circle cx="297.5" cy="498.2" r="4.9" fill="none" stroke="#000" stroke-width="1.25"/>
<text x="311.83" y="504.4" font-size="14.2" transform="matrix(1.0819 0 0 1 -25.65 0)"><tspan>M05118 [10 µg/kg]</tspan></text>
<line x1="286.8" y1="522.5" x2="308" y2="522.5" stroke="#000" stroke-width="1.4"/>
<path d="M297.5 516.6L302.5 522.5L297.5 528.4L292.5 522.5Z" fill="none" stroke="#000" stroke-width="1.25"/>
<text x="312.68" y="528.1" font-size="14.2" transform="matrix(1.0903 0 0 1 -28.25 0)"><tspan>T02392 [10 µg/kg]</tspan></text>
<text x="1.14" y="593.9" font-size="24" transform="matrix(0.9415 0 0 1 0.12 0)"><tspan font-weight="bold">C</tspan></text>
<text x="99.62" y="589.2" font-size="14.6" transform="matrix(1.0576 0 0 1 -5.77 0)"><tspan font-weight="bold">CD8</tspan></text>
<line x1="55.3" y1="609.4" x2="55.3" y2="728.2" stroke="#000" stroke-width="1.7"/>
<line x1="51.1" y1="728.2" x2="55.3" y2="728.2" stroke="#000" stroke-width="1.5"/>
<text x="37.94" y="733.4" font-size="14.6"><tspan>0</tspan></text>
<line x1="51.1" y1="688.8" x2="55.3" y2="688.8" stroke="#000" stroke-width="1.5"/>
<text x="29.84" y="694" font-size="14.6"><tspan>10</tspan></text>
<line x1="51.1" y1="649.4" x2="55.3" y2="649.4" stroke="#000" stroke-width="1.5"/>
<text x="29.84" y="654.6" font-size="14.6"><tspan>20</tspan></text>
<line x1="51.1" y1="610" x2="55.3" y2="610" stroke="#000" stroke-width="1.5"/>
<text x="29.84" y="615.2" font-size="14.6"><tspan>30</tspan></text>
<line x1="51.1" y1="728.2" x2="177.9" y2="728.2" stroke="#000" stroke-width="2"/>
<line x1="75.5" y1="728.2" x2="75.5" y2="732.5" stroke="#000" stroke-width="1.5"/>
<text x="71.43" y="746" font-size="14.6"><tspan>0</tspan></text>
<line x1="96.4" y1="728.2" x2="96.4" y2="732.5" stroke="#000" stroke-width="1.5"/>
<text x="92.15" y="746" font-size="14.6"><tspan>1</tspan></text>
<line x1="116.8" y1="728.2" x2="116.8" y2="732.5" stroke="#000" stroke-width="1.5"/>
<text x="112.75" y="746" font-size="14.6"><tspan>2</tspan></text>
<line x1="137" y1="728.2" x2="137" y2="732.5" stroke="#000" stroke-width="1.5"/>
<text x="132.98" y="746" font-size="14.6"><tspan>3</tspan></text>
<line x1="157.5" y1="728.2" x2="157.5" y2="732.5" stroke="#000" stroke-width="1.5"/>
<text x="153.49" y="746" font-size="14.6"><tspan>4</tspan></text>
<line x1="177.1" y1="728.2" x2="177.1" y2="732.5" stroke="#000" stroke-width="1.5"/>
<text x="173.05" y="746" font-size="14.6"><tspan>8</tspan></text>
<path d="M75.5 615.6V610.6H96.4V615.6" fill="none" stroke="#000" stroke-width="1.4"/>
<text x="61.98" y="606" font-size="14" transform="matrix(1.0543 0 0 1 -3.39 0)"><tspan font-style="italic">P</tspan><tspan> = .002</tspan></text>
<circle cx="75.5" cy="721.5" r="3.09" fill="none" stroke="#000" stroke-width="1.2"/>
<path d="M75.5 705.17L78.29 708.5L75.5 711.83L72.71 708.5Z" fill="none" stroke="#000" stroke-width="1.2"/>
<rect x="72.66" y="706.05" width="5.68" height="5.68" fill="none" stroke="#000" stroke-width="1.2"/>
<path d="M75.5 699.26L78.93 705.63L72.07 705.63Z" fill="#000"/>
<path d="M75.5 692.07L78.88 695.89L75.5 699.71L72.12 695.89Z" fill="#000"/>
<rect x="69.2" y="704.54" width="12.6" height="2.4" fill="#000"/>
<circle cx="96.4" cy="689.98" r="3.09" fill="none" stroke="#000" stroke-width="1.2"/>
<path d="M96.4 645.28L99.19 648.61L96.4 651.94L93.61 648.61Z" fill="none" stroke="#000" stroke-width="1.2"/>
<rect x="93.56" y="641.83" width="5.68" height="5.68" fill="none" stroke="#000" stroke-width="1.2"/>
<path d="M96.4 669.31L99.83 675.68L92.97 675.68Z" fill="#000"/>
<path d="M96.4 632.97L99.78 636.79L96.4 640.61L93.02 636.79Z" fill="#000"/>
<rect x="90.1" y="656.08" width="12.6" height="2.4" fill="#000"/>
<circle cx="116.8" cy="701.8" r="3.09" fill="none" stroke="#000" stroke-width="1.2"/>
<path d="M116.8 704.77L119.59 708.11L116.8 711.44L114.01 708.11Z" fill="none" stroke="#000" stroke-width="1.2"/>
<rect x="113.96" y="658.38" width="5.68" height="5.68" fill="none" stroke="#000" stroke-width="1.2"/>
<path d="M116.8 661.04L120.23 667.41L113.37 667.41Z" fill="#000"/>
<path d="M116.8 678.08L120.18 681.91L116.8 685.73L113.42 681.91Z" fill="#000"/>
<rect x="110.5" y="681.3" width="12.6" height="2.4" fill="#000"/>
<circle cx="137" cy="704.56" r="3.09" fill="none" stroke="#000" stroke-width="1.2"/>
<path d="M137 702.02L139.79 705.35L137 708.68L134.21 705.35Z" fill="none" stroke="#000" stroke-width="1.2"/>
<rect x="134.16" y="682.41" width="5.68" height="5.68" fill="none" stroke="#000" stroke-width="1.2"/>
<path d="M137 662.62L140.43 668.99L133.57 668.99Z" fill="#000"/>
<path d="M137 699.95L140.38 703.77L137 707.59L133.62 703.77Z" fill="#000"/>
<rect x="130.7" y="690.36" width="12.6" height="2.4" fill="#000"/>
<circle cx="157.5" cy="708.5" r="3.09" fill="none" stroke="#000" stroke-width="1.2"/>
<path d="M157.5 703.59L160.29 706.92L157.5 710.26L154.71 706.92Z" fill="none" stroke="#000" stroke-width="1.2"/>
<rect x="154.66" y="687.93" width="5.68" height="5.68" fill="none" stroke="#000" stroke-width="1.2"/>
<path d="M157.5 681.13L160.93 687.5L154.07 687.5Z" fill="#000"/>
<path d="M157.5 684.98L160.88 688.8L157.5 692.62L154.12 688.8Z" fill="#000"/>
<rect x="151.2" y="695.09" width="12.6" height="2.4" fill="#000"/>
<circle cx="177.1" cy="720.32" r="3.09" fill="none" stroke="#000" stroke-width="1.2"/>
<path d="M177.1 709.5L180.53 715.87L173.67 715.87Z" fill="#000"/>
<path d="M177.1 692.07L180.48 695.89L177.1 699.71L173.72 695.89Z" fill="#000"/>
<rect x="170.8" y="701.59" width="12.6" height="2.4" fill="#000"/>
<text x="268.62" y="589.2" font-size="14.6" transform="matrix(1.0440 0 0 1 -11.86 0)"><tspan font-weight="bold">CD4</tspan></text>
<line x1="223.3" y1="609.4" x2="223.3" y2="728.2" stroke="#000" stroke-width="1.7"/>
<line x1="219.1" y1="728.2" x2="223.3" y2="728.2" stroke="#000" stroke-width="1.5"/>
<text x="205.94" y="733.4" font-size="14.6"><tspan>0</tspan></text>
<line x1="219.1" y1="688.8" x2="223.3" y2="688.8" stroke="#000" stroke-width="1.5"/>
<text x="197.84" y="694" font-size="14.6"><tspan>10</tspan></text>
<line x1="219.1" y1="649.4" x2="223.3" y2="649.4" stroke="#000" stroke-width="1.5"/>
<text x="197.84" y="654.6" font-size="14.6"><tspan>20</tspan></text>
<line x1="219.1" y1="610" x2="223.3" y2="610" stroke="#000" stroke-width="1.5"/>
<text x="197.84" y="615.2" font-size="14.6"><tspan>30</tspan></text>
<line x1="219.1" y1="728.2" x2="346.2" y2="728.2" stroke="#000" stroke-width="2"/>
<line x1="242.6" y1="728.2" x2="242.6" y2="732.5" stroke="#000" stroke-width="1.5"/>
<text x="238.53" y="746" font-size="14.6"><tspan>0</tspan></text>
<line x1="263.5" y1="728.2" x2="263.5" y2="732.5" stroke="#000" stroke-width="1.5"/>
<text x="259.25" y="746" font-size="14.6"><tspan>1</tspan></text>
<line x1="284" y1="728.2" x2="284" y2="732.5" stroke="#000" stroke-width="1.5"/>
<text x="279.95" y="746" font-size="14.6"><tspan>2</tspan></text>
<line x1="304.4" y1="728.2" x2="304.4" y2="732.5" stroke="#000" stroke-width="1.5"/>
<text x="300.38" y="746" font-size="14.6"><tspan>3</tspan></text>
<line x1="324.9" y1="728.2" x2="324.9" y2="732.5" stroke="#000" stroke-width="1.5"/>
<text x="320.88" y="746" font-size="14.6"><tspan>4</tspan></text>
<line x1="345.4" y1="728.2" x2="345.4" y2="732.5" stroke="#000" stroke-width="1.5"/>
<text x="341.35" y="746" font-size="14.6"><tspan>8</tspan></text>
<path d="M242.6 614.4V609.4H263.5V614.4" fill="none" stroke="#000" stroke-width="1.4"/>
<text x="234.18" y="606" font-size="14" transform="matrix(1.0412 0 0 1 -9.67 0)"><tspan font-style="italic">P</tspan><tspan> = .07</tspan></text>
<circle cx="242.6" cy="712.83" r="3.09" fill="none" stroke="#000" stroke-width="1.2"/>
<path d="M242.6 702.8L245.39 706.14L242.6 709.47L239.81 706.14Z" fill="none" stroke="#000" stroke-width="1.2"/>
<rect x="239.76" y="704.48" width="5.68" height="5.68" fill="none" stroke="#000" stroke-width="1.2"/>
<path d="M242.6 694.14L246.03 700.51L239.17 700.51Z" fill="#000"/>
<path d="M242.6 687.34L245.98 691.16L242.6 694.99L239.22 691.16Z" fill="#000"/>
<rect x="236.3" y="699.42" width="12.6" height="2.4" fill="#000"/>
<circle cx="263.5" cy="702.2" r="3.09" fill="none" stroke="#000" stroke-width="1.2"/>
<path d="M263.5 679.16L266.29 682.5L263.5 685.83L260.71 682.5Z" fill="none" stroke="#000" stroke-width="1.2"/>
<rect x="260.66" y="699.35" width="5.68" height="5.68" fill="none" stroke="#000" stroke-width="1.2"/>
<path d="M263.5 687.83L266.93 694.2L260.07 694.2Z" fill="#000"/>
<path d="M263.5 658.19L266.88 662.01L263.5 665.83L260.12 662.01Z" fill="#000"/>
<rect x="257.2" y="685.63" width="12.6" height="2.4" fill="#000"/>
<circle cx="284" cy="703.77" r="3.09" fill="none" stroke="#000" stroke-width="1.2"/>
<path d="M284 707.53L286.79 710.86L284 714.2L281.21 710.86Z" fill="none" stroke="#000" stroke-width="1.2"/>
<rect x="281.16" y="687.14" width="5.68" height="5.68" fill="none" stroke="#000" stroke-width="1.2"/>
<path d="M284 688.23L287.43 694.6L280.57 694.6Z" fill="#000"/>
<path d="M284 674.34L287.38 678.16L284 681.98L280.62 678.16Z" fill="#000"/>
<rect x="277.7" y="692.92" width="12.6" height="2.4" fill="#000"/>
<circle cx="304.4" cy="702.98" r="3.09" fill="none" stroke="#000" stroke-width="1.2"/>
<path d="M304.4 707.14L307.19 710.47L304.4 713.8L301.61 710.47Z" fill="none" stroke="#000" stroke-width="1.2"/>
<rect x="301.56" y="684.38" width="5.68" height="5.68" fill="none" stroke="#000" stroke-width="1.2"/>
<path d="M304.4 687.04L307.83 693.41L300.97 693.41Z" fill="#000"/>
<path d="M304.4 686.16L307.78 689.98L304.4 693.8L301.02 689.98Z" fill="#000"/>
<rect x="298.1" y="694.3" width="12.6" height="2.4" fill="#000"/>
<circle cx="324.9" cy="708.5" r="3.09" fill="none" stroke="#000" stroke-width="1.2"/>
<path d="M324.9 709.9L327.69 713.23L324.9 716.56L322.11 713.23Z" fill="none" stroke="#000" stroke-width="1.2"/>
<rect x="322.06" y="698.96" width="5.68" height="5.68" fill="none" stroke="#000" stroke-width="1.2"/>
<path d="M324.9 690.79L328.33 697.16L321.47 697.16Z" fill="#000"/>
<path d="M324.9 674.34L328.28 678.16L324.9 681.98L321.52 678.16Z" fill="#000"/>
<rect x="318.6" y="696.66" width="12.6" height="2.4" fill="#000"/>
<circle cx="345.4" cy="711.26" r="3.09" fill="none" stroke="#000" stroke-width="1.2"/>
<path d="M345.4 702.8L348.83 709.17L341.97 709.17Z" fill="#000"/>
<path d="M345.4 684.98L348.78 688.8L345.4 692.62L342.02 688.8Z" fill="#000"/>
<rect x="339.1" y="699.62" width="12.6" height="2.4" fill="#000"/>
<text x="429.62" y="589.2" font-size="14.6" transform="matrix(1.0467 0 0 1 -20.1 0)"><tspan font-weight="bold">CD16</tspan></text>
<line x1="390.5" y1="609.4" x2="390.5" y2="728.2" stroke="#000" stroke-width="1.7"/>
<line x1="386.3" y1="728.2" x2="390.5" y2="728.2" stroke="#000" stroke-width="1.5"/>
<text x="373.14" y="733.4" font-size="14.6"><tspan>0</tspan></text>
<line x1="386.3" y1="688.8" x2="390.5" y2="688.8" stroke="#000" stroke-width="1.5"/>
<text x="365.04" y="694" font-size="14.6"><tspan>20</tspan></text>
<line x1="386.3" y1="649.4" x2="390.5" y2="649.4" stroke="#000" stroke-width="1.5"/>
<text x="365.04" y="654.6" font-size="14.6"><tspan>40</tspan></text>
<line x1="386.3" y1="610" x2="390.5" y2="610" stroke="#000" stroke-width="1.5"/>
<text x="365.04" y="615.2" font-size="14.6"><tspan>60</tspan></text>
<line x1="386.3" y1="728.2" x2="514.4" y2="728.2" stroke="#000" stroke-width="2"/>
<line x1="409.8" y1="728.2" x2="409.8" y2="732.5" stroke="#000" stroke-width="1.5"/>
<text x="405.73" y="746" font-size="14.6"><tspan>0</tspan></text>
<line x1="430.5" y1="728.2" x2="430.5" y2="732.5" stroke="#000" stroke-width="1.5"/>
<text x="426.25" y="746" font-size="14.6"><tspan>1</tspan></text>
<line x1="451" y1="728.2" x2="451" y2="732.5" stroke="#000" stroke-width="1.5"/>
<text x="446.95" y="746" font-size="14.6"><tspan>2</tspan></text>
<line x1="471.2" y1="728.2" x2="471.2" y2="732.5" stroke="#000" stroke-width="1.5"/>
<text x="467.19" y="746" font-size="14.6"><tspan>3</tspan></text>
<line x1="491.9" y1="728.2" x2="491.9" y2="732.5" stroke="#000" stroke-width="1.5"/>
<text x="487.88" y="746" font-size="14.6"><tspan>4</tspan></text>
<line x1="513.6" y1="728.2" x2="513.6" y2="732.5" stroke="#000" stroke-width="1.5"/>
<text x="509.55" y="746" font-size="14.6"><tspan>8</tspan></text>
<path d="M409.8 614.4V609.4H430.5V614.4" fill="none" stroke="#000" stroke-width="1.4"/>
<text x="395.78" y="606" font-size="14" transform="matrix(1.0266 0 0 1 -10.55 0)"><tspan font-style="italic">P</tspan><tspan> = .004</tspan></text>
<circle cx="409.8" cy="712.44" r="3.09" fill="none" stroke="#000" stroke-width="1.2"/>
<path d="M409.8 718.96L412.59 722.29L409.8 725.62L407.01 722.29Z" fill="none" stroke="#000" stroke-width="1.2"/>
<rect x="406.96" y="720.24" width="5.68" height="5.68" fill="none" stroke="#000" stroke-width="1.2"/>
<path d="M409.8 713.84L413.23 720.21L406.37 720.21Z" fill="#000"/>
<path d="M409.8 713.94L413.18 717.76L409.8 721.58L406.42 717.76Z" fill="#000"/>
<rect x="403.5" y="715.38" width="12.6" height="2.4" fill="#000"/>
<circle cx="430.5" cy="621.23" r="3.09" fill="none" stroke="#000" stroke-width="1.2"/>
<circle cx="430.5" cy="664.18" r="3.09" fill="none" stroke="#000" stroke-width="1.2"/>
<path d="M430.5 617.5L433.29 620.84L430.5 624.17L427.71 620.84Z" fill="none" stroke="#000" stroke-width="1.2"/>
<rect x="427.66" y="618.98" width="5.68" height="5.68" fill="none" stroke="#000" stroke-width="1.2"/>
<path d="M430.5 630.5L433.93 636.88L427.07 636.88Z" fill="#000"/>
<path d="M430.5 681.24L433.88 685.06L430.5 688.88L427.12 685.06Z" fill="#000"/>
<rect x="424.2" y="642.49" width="12.6" height="2.4" fill="#000"/>
<circle cx="451" cy="711.26" r="3.09" fill="none" stroke="#000" stroke-width="1.2"/>
<path d="M451 679.16L453.79 682.5L451 685.83L448.21 682.5Z" fill="none" stroke="#000" stroke-width="1.2"/>
<rect x="448.16" y="699.55" width="5.68" height="5.68" fill="none" stroke="#000" stroke-width="1.2"/>
<path d="M451 686.65L454.43 693.02L447.57 693.02Z" fill="#000"/>
<path d="M451 698.18L454.38 702L451 705.82L447.62 702Z" fill="#000"/>
<rect x="444.7" y="696.27" width="12.6" height="2.4" fill="#000"/>
<path d="M471.2 669.31L473.99 672.65L471.2 675.98L468.41 672.65Z" fill="none" stroke="#000" stroke-width="1.2"/>
<rect x="468.36" y="697.19" width="5.68" height="5.68" fill="none" stroke="#000" stroke-width="1.2"/>
<path d="M471.2 696.3L474.63 702.67L467.77 702.67Z" fill="#000"/>
<path d="M471.2 716.1L474.58 719.93L471.2 723.75L467.82 719.93Z" fill="#000"/>
<rect x="464.9" y="695.87" width="12.6" height="2.4" fill="#000"/>
<circle cx="491.9" cy="697.47" r="3.09" fill="none" stroke="#000" stroke-width="1.2"/>
<path d="M491.9 694.53L494.69 697.86L491.9 701.19L489.11 697.86Z" fill="none" stroke="#000" stroke-width="1.2"/>
<rect x="489.06" y="701.32" width="5.68" height="5.68" fill="none" stroke="#000" stroke-width="1.2"/>
<path d="M491.9 700.44L495.33 706.81L488.47 706.81Z" fill="#000"/>
<path d="M491.9 713.35L495.28 717.17L491.9 720.99L488.52 717.17Z" fill="#000"/>
<rect x="485.6" y="701.78" width="12.6" height="2.4" fill="#000"/>
<circle cx="513.6" cy="723.08" r="3.09" fill="none" stroke="#000" stroke-width="1.2"/>
<path d="M513.6 715.41L517.03 721.78L510.17 721.78Z" fill="#000"/>
<path d="M513.6 715.32L516.98 719.14L513.6 722.96L510.22 719.14Z" fill="#000"/>
<rect x="507.3" y="716.76" width="12.6" height="2.4" fill="#000"/>
<text x="-1.13" y="0" font-size="16.8" transform="translate(17.5 736.5) rotate(-90) scale(1.0809 1)"><tspan font-weight="bold">Ki-67</tspan><tspan font-weight="bold" dy="-5.3">+</tspan><tspan font-weight="bold" dy="5.3"> cells (%)</tspan></text>
<text x="233.59" y="769.5" font-size="17.1" transform="matrix(1.0474 0 0 1 -11.09 0)"><tspan font-weight="bold">Study Week</tspan></text>
<path d="M138.4 784.1L144 789.8L138.4 795.5L132.8 789.8Z" fill="#000"/>
<text x="153.03" y="796" font-size="14.2" transform="matrix(1.0974 0 0 1 -14.97 0)"><tspan>97067 [2.5 µg/kg]</tspan></text>
<rect x="133.95" y="807.8" width="8.7" height="8.6" fill="none" stroke="#000" stroke-width="1.25"/>
<text x="152.53" y="818" font-size="14.2" transform="matrix(1.0748 0 0 1 -11.5 0)"><tspan>K00043 [5 µg/kg]</tspan></text>
<path d="M138.3 830.7L143.3 839.7L133.3 839.7Z" fill="#000"/>
<text x="153.13" y="841" font-size="14.2" transform="matrix(1.0850 0 0 1 -13.07 0)"><tspan>02279 [10 µg/kg]</tspan></text>
<circle cx="297.8" cy="790" r="4.85" fill="none" stroke="#000" stroke-width="1.25"/>
<text x="312.53" y="796.5" font-size="14.2" transform="matrix(1.0776 0 0 1 -24.34 0)"><tspan>M05118 [10 µg/kg]</tspan></text>
<path d="M298.1 808.9L303.1 814.4L298.1 819.9L293.1 814.4Z" fill="none" stroke="#000" stroke-width="1.25"/>
<text x="313.38" y="820.8" font-size="14.2" transform="matrix(1.0823 0 0 1 -25.83 0)"><tspan>T02392 [10 µg/kg]</tspan></text>
<rect x="291.7" y="833.55" width="12.4" height="2.9" fill="#000"/>
<text x="312.53" y="841.4" font-size="14.2" transform="matrix(1.0807 0 0 1 -25.3 0)"><tspan>Mean</tspan></text>
</svg>
</body></html>
